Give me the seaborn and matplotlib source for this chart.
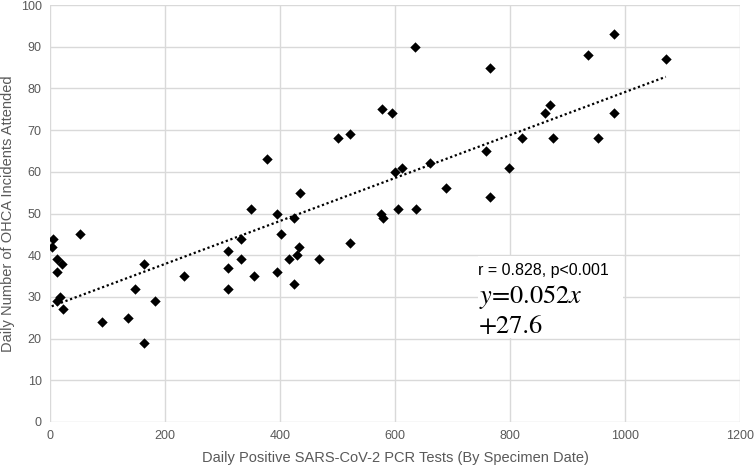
import matplotlib
matplotlib.use("Agg")
import matplotlib.pyplot as plt
from matplotlib.patches import Rectangle
import seaborn as sns
import pandas as pd

# daily positive PCR tests vs OHCA incidents
pcr_tests = [3, 6, 12, 13, 21, 17, 13, 22, 52, 90, 136, 148, 164, 164, 183, 233,
             310, 310, 310, 332, 332, 350, 355, 377, 395, 395, 401, 425, 425, 416,
             430, 433, 435, 467, 500, 521, 522, 577, 595, 576, 579, 600, 613, 605,
             636, 635, 660, 689, 759, 765, 765, 799, 821, 860, 870, 874, 935, 953,
             981, 981, 1071]
ohca = [42, 44, 39, 36, 38, 30, 29, 27, 45, 24, 25, 32, 38, 19, 29, 35,
        41, 37, 32, 44, 39, 51, 35, 63, 50, 36, 45, 49, 33, 39,
        40, 42, 55, 39, 68, 69, 43, 75, 74, 50, 49, 60, 61, 51,
        51, 90, 62, 56, 65, 85, 54, 61, 68, 74, 76, 68, 88, 68,
        93, 74, 87]

stats_label = "r = 0.828, p<0.001"
eq_line1 = r"$y$=0.052$x$"
eq_line2 = "+27.6"

df = pd.DataFrame({"tests": pcr_tests, "ohca": ohca})

sns.set_style("white")
plt.rcParams["font.family"] = ["Liberation Sans", "DejaVu Sans"]
plt.rcParams["mathtext.fontset"] = "stix"

fig = plt.figure(figsize=(7.54, 4.68), dpi=100)
ax = fig.add_axes([50 / 754, 1 - 422 / 468, 690 / 754, 417 / 468])

sns.regplot(data=df, x="tests", y="ohca", ax=ax, ci=None, truncate=True,
            marker="D",
            scatter_kws={"s": 28, "color": "black", "alpha": 1, "linewidths": 0,
                         "zorder": 3},
            line_kws={"color": "black", "linestyle": (0, (1, 1.2)), "linewidth": 1.6,
                      "zorder": 2})

ax.set_xlim(0, 1200)
ax.set_ylim(0, 100)
ax.set_xticks(range(0, 1201, 200))
ax.set_yticks(range(0, 101, 10))
ax.grid(True, color="#d9d9d9", linewidth=1)
ax.set_axisbelow(True)
for s in ax.spines.values():
    s.set_visible(False)
ax.tick_params(length=0, labelsize=9, labelcolor="#595959", pad=6)

ax.set_xlabel("Daily Positive SARS-CoV-2 PCR Tests (By Specimen Date)",
              fontsize=10.5, color="#595959", labelpad=6)
ax.set_ylabel("Daily Number of OHCA Incidents Attended",
              fontsize=10.5, color="#595959", labelpad=4)

# white label box over the grid
ax.add_patch(Rectangle((744, 20.1), 253, 19.7, facecolor="white", edgecolor="none",
                       zorder=1.5))
ax.text(745, 36.3, stats_label, fontsize=11.5, color="black", va="center",
        ha="left", zorder=5)
ax.text(746, 30.0, eq_line1, fontsize=19, color="black", va="center", ha="left",
        family="STIXGeneral", zorder=5)
ax.text(746, 22.8, eq_line2, fontsize=19, color="black", va="center", ha="left",
        family="STIXGeneral", zorder=5)

fig.savefig("out.png", dpi=100)
